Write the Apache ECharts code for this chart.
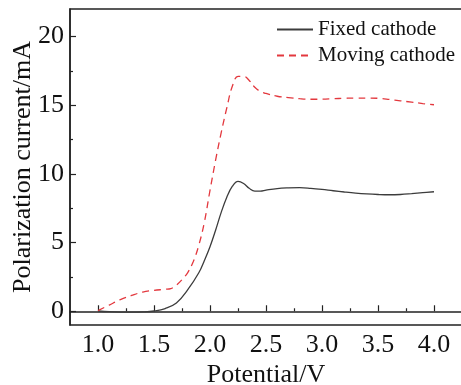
<!DOCTYPE html>
<html>
<head>
<meta charset="utf-8">
<script src="https://cdn.jsdelivr.net/npm/echarts@6/dist/echarts.min.js"></script>
<style>html,body{margin:0;padding:0;background:#fff}#c{width:461px;height:385px}</style>
</head>
<body>
<div id="c"></div>
<script>
const fixedX = [1.0,1.1,1.2,1.3,1.4,1.5,1.6,1.7,1.8,1.9,1.95,2.0,2.05,2.1,2.15,2.2,2.25,2.3,2.35,2.4,2.45,2.5,2.6,2.7,2.8,2.9,3.0,3.1,3.2,3.3,3.4,3.5,3.6,3.7,3.8,3.9,4.0];
const fixedY = [0.02,-0.03,-0.06,-0.07,-0.05,0.02,0.2,0.6,1.55,2.8,3.7,4.7,5.9,7.2,8.3,9.1,9.45,9.3,8.95,8.75,8.75,8.82,8.93,8.98,9.0,8.95,8.87,8.77,8.68,8.6,8.54,8.5,8.48,8.5,8.56,8.63,8.7];
const movingX = [1.0,1.1,1.2,1.3,1.4,1.5,1.6,1.65,1.7,1.75,1.8,1.85,1.9,1.95,2.0,2.05,2.1,2.15,2.2,2.25,2.3,2.35,2.4,2.45,2.5,2.6,2.7,2.8,2.9,3.0,3.1,3.2,3.3,3.4,3.5,3.6,3.7,3.8,3.9,4.0];
const movingY = [0.05,0.45,0.85,1.15,1.4,1.52,1.6,1.65,1.9,2.3,2.8,3.6,4.8,6.5,8.8,11.0,13.0,14.8,16.4,17.1,17.1,16.8,16.3,16.0,15.85,15.65,15.55,15.47,15.43,15.44,15.47,15.5,15.52,15.52,15.5,15.42,15.32,15.22,15.12,15.03];
const xMajor = [1.0,1.5,2.0,2.5,3.0,3.5,4.0];
const xMinor = [1.25,1.75,2.25,2.75,3.25,3.75];
const yMajor = [0,5,10,15,20];
const yMinor = [2.5,7.5,12.5,17.5];
const seriesNames = ['Fixed cathode','Moving cathode'];

const font = 'Liberation Serif';
const axCol = '#222';
const chart = echarts.init(document.getElementById('c'));
const pair = (xs, ys) => xs.map((x,i)=>[x, ys[i]]);
const baseX = {type:'value', min:0.75, max:4.25, splitLine:{show:false}};
const baseY = {type:'value', min:-1, max:22, splitLine:{show:false}};
chart.setOption({
  animation:false,
  backgroundColor:'#fff',
  grid:{left:70, top:9, right:-1, bottom:60, show:true, borderColor:axCol, borderWidth:1.5,
        containLabel:false, outerBoundsMode:'none'},
  legend:{
    orient:'vertical', left:276, top:19, padding:0, itemWidth:36, itemHeight:14, itemGap:5,
    itemStyle:{color:'rgba(0,0,0,0)', borderWidth:0, opacity:0},
    textStyle:{fontFamily:font, fontSize:21, color:'#111', padding:[0,0,0,0]},
    data: seriesNames
  },
  xAxis:[
    Object.assign({}, baseX, {
      position:'bottom',
      name:'Potential/V', nameLocation:'middle', nameGap:37, nameMoveOverlap:false,
      nameTextStyle:{fontFamily:font, fontSize:26, color:'#111'},
      axisLine:{show:true, lineStyle:{color:axCol, width:1.5}},
      axisTick:{show:true, inside:true, length:6, customValues:xMajor, lineStyle:{color:axCol, width:1.2}},
      axisLabel:{customValues:xMajor, formatter:v=>v.toFixed(1), fontFamily:font, fontSize:26, color:'#111', margin:7}
    }),
    Object.assign({}, baseX, {
      position:'bottom',
      axisLine:{show:false},
      axisTick:{show:true, inside:true, length:3, customValues:xMinor, lineStyle:{color:axCol, width:1.2}},
      axisLabel:{show:false}
    })
  ],
  yAxis:[
    Object.assign({}, baseY, {
      position:'left',
      name:'Polarization current/mA', nameLocation:'middle', nameGap:34, nameRotate:90, nameMoveOverlap:false,
      nameTextStyle:{fontFamily:font, fontSize:26, color:'#111'},
      axisLine:{show:true, lineStyle:{color:axCol, width:1.5}},
      axisTick:{show:true, inside:true, length:6, customValues:yMajor, lineStyle:{color:axCol, width:1.2}},
      axisLabel:{customValues:yMajor, fontFamily:font, fontSize:26, color:'#111', margin:6}
    }),
    Object.assign({}, baseY, {
      position:'left',
      axisLine:{show:false},
      axisTick:{show:true, inside:true, length:3, customValues:yMinor, lineStyle:{color:axCol, width:1.2}},
      axisLabel:{show:false}
    })
  ],
  series:[
    {name:seriesNames[0], type:'line', smooth:0.4, symbol:'none', xAxisIndex:0, yAxisIndex:0,
     data:pair(fixedX, fixedY), itemStyle:{color:'#3c3c3c'}, lineStyle:{color:'#3c3c3c', width:1.3}},
    {name:seriesNames[1], type:'line', smooth:0.4, symbol:'none', xAxisIndex:0, yAxisIndex:0,
     data:pair(movingX, movingY), itemStyle:{color:'#e3383e'}, lineStyle:{color:'#e3383e', width:1.3, type:[7,5]}}
  ]
});
</script>
</body>
</html>
